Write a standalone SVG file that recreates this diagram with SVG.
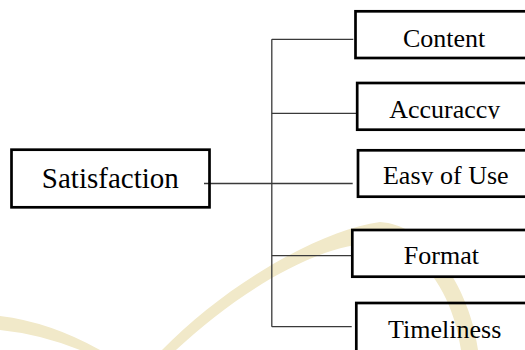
<svg xmlns="http://www.w3.org/2000/svg" width="525" height="350" viewBox="0 0 525 350">
<style>
.box{fill:none;stroke:#000;stroke-width:2.7}
.lbl{font-family:"Liberation Serif","Times New Roman",serif;font-size:26px;fill:#000;text-anchor:middle}
.big{font-size:29px}
.conn{fill:none;stroke:#3a3a3a;stroke-width:1.3}
.wm{fill:#f1e9c9;stroke:none}
</style>
<defs>
<clipPath id="clipAcc"><rect x="357" y="83" width="170" height="35.8"/></clipPath>
<clipPath id="clipEasy"><rect x="358" y="150" width="170" height="35"/></clipPath>
</defs>
<rect width="525" height="350" fill="#fff"/>
<g id="watermark">
<path class="wm" d="M162,350 C225,285 320,230 380,222 C430,225 470,290 478,350 L461,350 C452,290 420,245 376,243 C320,243 240,290 176,350 Z"/>
<path class="wm" d="M0,316 Q50,322 100,350 L80,350 Q40,334 0,330 Z"/>
</g>
<g id="connectors">
<line class="conn" x1="204" y1="183.5" x2="352.7" y2="183.5"/>
<line class="conn" x1="271.8" y1="39.3" x2="271.8" y2="326.7"/>
<line class="conn" x1="271.8" y1="39.3" x2="353.3" y2="39.3"/>
<line class="conn" x1="271.8" y1="113.3" x2="357.7" y2="113.3"/>
<line class="conn" x1="271.8" y1="255.7" x2="351" y2="255.7"/>
<line class="conn" x1="271.8" y1="326.7" x2="351.7" y2="326.7"/>
</g>
<g id="satisfaction">
<rect class="box" x="11.5" y="149.7" width="198" height="57.6"/>
<text class="lbl big" x="110.3" y="188.3">Satisfaction</text>
</g>
<g id="content">
<rect class="box" x="355.5" y="11.3" width="175" height="46.7"/>
<text class="lbl" x="444.2" y="46.7">Content</text>
</g>
<g id="accuracy">
<rect class="box" x="357.2" y="83" width="175" height="46.7"/>
<text class="lbl" x="444.7" y="118.3" clip-path="url(#clipAcc)">Accuraccy</text>
</g>
<g id="easy-of-use">
<rect class="box" x="358" y="150.3" width="175" height="46.4"/>
<text class="lbl" x="445.8" y="184.3" clip-path="url(#clipEasy)">Easy of Use</text>
</g>
<g id="format">
<rect class="box" x="352.3" y="230" width="180" height="46.7" style="fill:#fff"/>
<text class="lbl" x="441.4" y="264.3">Format</text>
</g>
<g id="timeliness">
<rect class="box" x="356.3" y="303" width="175" height="60"/>
<text class="lbl" x="444.7" y="337.7">Timeliness</text>
</g>
</svg>
